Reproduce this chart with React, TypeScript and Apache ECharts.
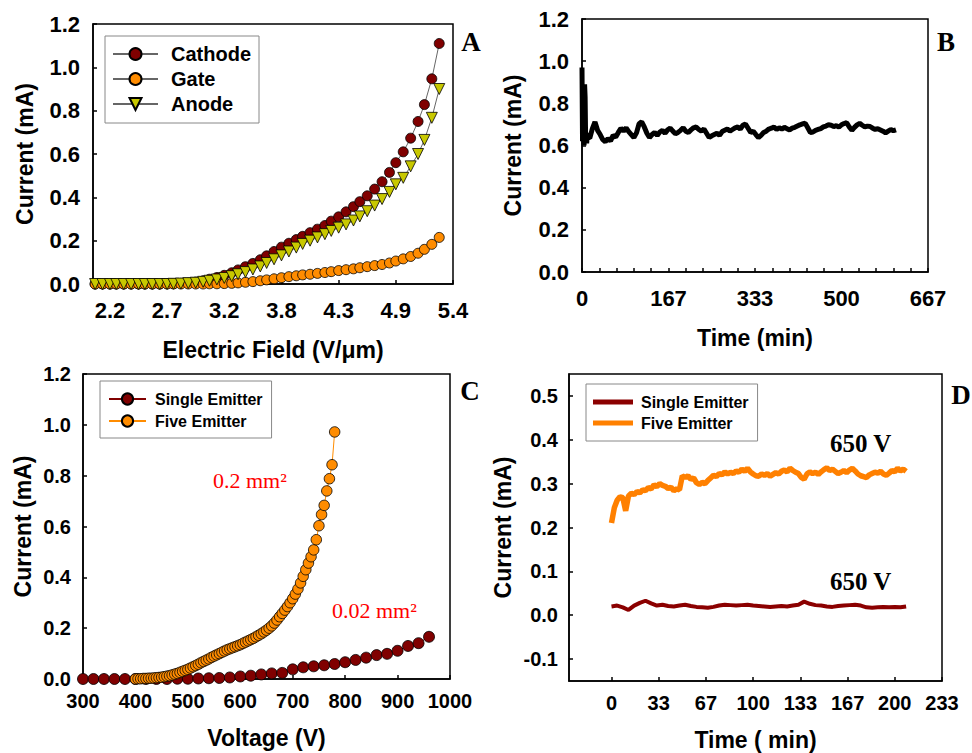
import React, { useEffect, useRef } from "react";
import * as echarts from "echarts";

// ---------- Panel A: current vs electric field ----------
const fieldA = [
  2.02, 2.09, 2.16, 2.22, 2.29, 2.36, 2.43, 2.49, 2.56, 2.63,
  2.70, 2.76, 2.83, 2.90, 2.97, 3.04, 3.10, 3.17, 3.24, 3.31,
  3.37, 3.44, 3.51, 3.58, 3.64, 3.71, 3.78, 3.85, 3.92, 3.98,
  4.05, 4.12, 4.19, 4.25, 4.32, 4.39, 4.46, 4.52, 4.59, 4.66,
  4.73, 4.80, 4.86, 4.93, 5.00, 5.07, 5.13, 5.20, 5.27,
];
const cathodeA = [
  0, 0, 0, 0, 0, 0, 0, 0, 0, 0,
  0.001, 0.002, 0.003, 0.005, 0.009, 0.015, 0.022, 0.03, 0.04, 0.052,
  0.065, 0.08, 0.095, 0.112, 0.13, 0.15, 0.17, 0.188, 0.205, 0.22,
  0.237, 0.253, 0.27, 0.29, 0.31, 0.333, 0.357, 0.38, 0.407, 0.438,
  0.472, 0.515, 0.56, 0.61, 0.673, 0.75, 0.828, 0.947, 1.11,
];
const gateA = [
  0, 0, 0, 0, 0, 0, 0, 0, 0, 0,
  0, 0, 0, 0, 0, 0, 0.001, 0.001, 0.002, 0.003,
  0.005, 0.008, 0.011, 0.015, 0.019, 0.024, 0.029, 0.034, 0.038, 0.042,
  0.045, 0.049, 0.053, 0.057, 0.062, 0.066, 0.07, 0.075, 0.08, 0.085,
  0.09, 0.097, 0.106, 0.116, 0.127, 0.142, 0.16, 0.183, 0.215,
];
const anodeA = [
  0, 0, 0, 0, 0, 0, 0, 0, 0, 0,
  0, 0.001, 0.002, 0.004, 0.006, 0.01, 0.015, 0.021, 0.028, 0.036,
  0.045, 0.055, 0.067, 0.081, 0.097, 0.114, 0.132, 0.15, 0.168, 0.185,
  0.2, 0.215, 0.23, 0.245, 0.26, 0.275, 0.293, 0.312, 0.336, 0.362,
  0.392, 0.425, 0.46, 0.49, 0.543, 0.6, 0.665, 0.767, 0.9,
];
const fieldTicksA = [2.16, 2.7, 3.24, 3.78, 4.32, 4.86, 5.4];

// ---------- Panel B: stability over time ----------
const earlyTimeB = [0, 1, 2, 3, 4, 5, 6, 7, 8, 9, 10];
const earlyCurrentB = [0.97, 0.62, 0.88, 0.74, 0.6, 0.89, 0.83, 0.63, 0.66, 0.61, 0.64];
const lateStartB = 15;
const lateStepB = 5;
const lateCurrentB = [
  0.635, 0.68, 0.712, 0.672, 0.652, 0.628, 0.618, 0.632, 0.622, 0.648,
  0.64, 0.662, 0.682, 0.668, 0.684, 0.666, 0.652, 0.638, 0.66, 0.703,
  0.712, 0.688, 0.658, 0.638, 0.652, 0.662, 0.648, 0.664, 0.672, 0.658,
  0.674, 0.682, 0.668, 0.656, 0.662, 0.672, 0.684, 0.668, 0.662, 0.674,
  0.684, 0.688, 0.676, 0.668, 0.678, 0.658, 0.638, 0.646, 0.652, 0.658,
  0.648, 0.666, 0.672, 0.678, 0.668, 0.676, 0.684, 0.688, 0.678, 0.696,
  0.702, 0.682, 0.662, 0.668, 0.652, 0.638, 0.648, 0.662, 0.668, 0.678,
  0.682, 0.688, 0.676, 0.684, 0.678, 0.686, 0.68, 0.674, 0.682, 0.686,
  0.692, 0.698, 0.702, 0.706, 0.684, 0.662, 0.664, 0.672, 0.676, 0.68,
  0.688, 0.692, 0.698, 0.696, 0.69, 0.694, 0.688, 0.698, 0.704, 0.708,
  0.688, 0.672, 0.686, 0.698, 0.705, 0.696, 0.688, 0.692, 0.69, 0.682,
  0.676, 0.68, 0.674, 0.668, 0.66, 0.668, 0.676, 0.67, 0.674,
];
const timeLabelsB = [0, 166.667, 333.333, 500, 666.667];

// ---------- Panel C: current vs voltage ----------
const singleVoltC = [
  300, 320, 340, 360, 380, 400, 420, 440, 460, 480,
  500, 520, 540, 560, 580, 600, 620, 640, 660, 680,
  700, 720, 740, 760, 780, 800, 820, 840, 860, 880,
  900, 920, 940, 960,
];
const singleCurrentC = [
  0, 0, 0, 0, 0, 0, 0, 0, 0, 0.001,
  0.001, 0.002, 0.003, 0.004, 0.006, 0.01, 0.013, 0.018, 0.022, 0.024,
  0.038, 0.046, 0.05, 0.054, 0.059, 0.066, 0.075, 0.084, 0.094, 0.099,
  0.111, 0.13, 0.141, 0.166,
];
const fiveVoltC = [
  400, 405, 410, 415, 420, 425, 430, 435, 440, 445,
  450, 455, 460, 465, 470, 475, 480, 485, 490, 495,
  500, 505, 510, 515, 520, 525, 530, 535, 540, 545,
  550, 555, 560, 565, 570, 575, 580, 585, 590, 595,
  600, 605, 610, 615, 620, 625, 630, 635, 640, 645,
  650, 655, 660, 665, 670, 675, 680, 685, 690, 695,
  700, 705, 710, 715, 720, 725, 730, 735, 740, 745,
  750, 755, 760, 765, 770, 775, 780,
];
const fiveCurrentC = [
  0.0, 0.001, 0.001, 0.002, 0.002, 0.003, 0.003, 0.004, 0.005, 0.006,
  0.007, 0.009, 0.011, 0.013, 0.016, 0.019, 0.022, 0.026, 0.03, 0.034,
  0.038, 0.043, 0.048, 0.053, 0.058, 0.064, 0.069, 0.074, 0.079, 0.085,
  0.09, 0.095, 0.1, 0.105, 0.11, 0.115, 0.119, 0.123, 0.127, 0.131,
  0.135, 0.14, 0.145, 0.15, 0.155, 0.16, 0.166, 0.172, 0.178, 0.185,
  0.192, 0.2, 0.209, 0.22, 0.232, 0.245, 0.258, 0.271, 0.285, 0.3,
  0.316, 0.334, 0.354, 0.378, 0.404, 0.43, 0.456, 0.481, 0.508, 0.548,
  0.603, 0.647, 0.683, 0.74, 0.788, 0.843, 0.972,
];

// ---------- Panel D: stability at 650 V ----------
const fiveStepD = 2;
const fiveCurrentD = [
  0.21, 0.245, 0.262, 0.27, 0.268, 0.238, 0.272, 0.278, 0.275, 0.282,
  0.279, 0.286, 0.284, 0.291, 0.288, 0.297, 0.293, 0.3, 0.296, 0.294,
  0.289, 0.292, 0.284, 0.288, 0.286, 0.318, 0.314, 0.318, 0.31, 0.313,
  0.302, 0.298, 0.303, 0.3, 0.307, 0.313, 0.319, 0.316, 0.323, 0.32,
  0.327, 0.322, 0.326, 0.323, 0.329, 0.326, 0.333, 0.328, 0.335, 0.327,
  0.322, 0.318, 0.317, 0.322, 0.319, 0.323, 0.317, 0.321, 0.325, 0.322,
  0.328, 0.331, 0.327, 0.335, 0.33, 0.326, 0.323, 0.314, 0.31, 0.322,
  0.327, 0.323, 0.326, 0.321, 0.327, 0.332, 0.336, 0.33, 0.333, 0.328,
  0.323, 0.326, 0.33, 0.325, 0.331, 0.335, 0.329, 0.322, 0.318, 0.316,
  0.314, 0.32, 0.323, 0.326, 0.324, 0.328, 0.322, 0.319, 0.324, 0.33,
  0.327, 0.335, 0.329, 0.333, 0.328,
];
const singleStepD = 4;
const singleCurrentD = [
  0.02, 0.022, 0.018, 0.012, 0.022, 0.028, 0.033, 0.027, 0.022, 0.024,
  0.021, 0.02, 0.022, 0.024, 0.021, 0.019, 0.018, 0.017, 0.019, 0.022,
  0.024, 0.023, 0.022, 0.023, 0.024, 0.022, 0.021, 0.02, 0.019, 0.02,
  0.021, 0.02, 0.022, 0.024, 0.031, 0.026, 0.023, 0.022, 0.02, 0.019,
  0.021, 0.022, 0.023, 0.024, 0.022, 0.018, 0.017, 0.018, 0.019, 0.018,
  0.019, 0.018, 0.02,
];
const timeLabelsD = [0, 33.333, 66.667, 100, 133.333, 166.667, 200, 233.333];
const currentLabelsD = [-0.1, 0, 0.1, 0.2, 0.3, 0.4, 0.5];

// ---------- styling ----------
const SANS = "'Liberation Sans', Arial, sans-serif";
const SERIF = "'Liberation Serif', 'Times New Roman', serif";
const DARK_RED = "#800000";
const ORANGE = "#ff8c00";
const OLIVE = "#c8c800";
// thick horizontal bar centred in the legend item box (invisible corner points fix the bounds)
const LINE_ICON = "path://M0,0L40,0L40,0Z M0,4.5L40,4.5L40,9.5L0,9.5Z M0,14L40,14L40,14Z";

const zip = (xs: number[], ys: number[]) => xs.map((x, i) => [x, ys[i]]);

function axis(o: any) {
  const tickCustom = o.tickValues || o.labelValues;
  return {
    type: "value",
    gridIndex: o.grid,
    min: o.min,
    max: o.max,
    interval: o.interval,
    name: o.name,
    nameLocation: "middle",
    nameGap: o.nameGap,
    nameRotate: o.rotate ? 90 : 0,
    nameTextStyle: { fontSize: 23, fontWeight: "bold", fontFamily: SANS, color: "#000" },
    axisLine: { show: true, onZero: false, lineStyle: { color: "#000", width: 1.5 } },
    axisTick: {
      show: true,
      inside: true,
      length: 4,
      lineStyle: { color: "#000", width: 1.5 },
      ...(tickCustom ? { customValues: tickCustom } : {}),
    },
    axisLabel: {
      fontSize: o.fontSize,
      fontWeight: "bold",
      fontFamily: SANS,
      color: "#000",
      margin: o.margin,
      formatter: o.formatter,
      showMinLabel: true,
      showMaxLabel: true,
      ...(o.labelValues ? { customValues: o.labelValues } : {}),
    },
    splitLine: { show: false },
  };
}

const fixed1 = (v: number) => v.toFixed(1);
const rounded = (v: number) => String(Math.round(v));

function buildOption() {
  const gridBase = { show: true, borderColor: "#000", borderWidth: 1.5, containLabel: false, outerBoundsMode: "none" };
  const legendText = (size: number, pad: number) => ({
    fontSize: size,
    fontWeight: "bold",
    fontFamily: SANS,
    color: "#000",
    lineHeight: size,
    padding: [0, 0, 0, pad],
  });
  return {
    animation: false,
    backgroundColor: "#fff",
    grid: [
      { ...gridBase, left: 93, top: 24, width: 360, height: 260 },
      { ...gridBase, left: 582, top: 19, width: 346, height: 253 },
      { ...gridBase, left: 83, top: 374, width: 367, height: 305 },
      { ...gridBase, left: 569, top: 374, width: 373, height: 307 },
    ],
    xAxis: [
      axis({ grid: 0, min: 2.0, max: 5.4, name: "Electric Field (V/μm)", nameGap: 54, fontSize: 22, margin: 15, labelValues: fieldTicksA, formatter: fixed1 }),
      axis({ grid: 1, min: 0, max: 666.667, name: "Time (min)", nameGap: 54, fontSize: 22, margin: 15, labelValues: timeLabelsB, tickValues: Array.from({ length: 21 }, (_, i) => (i * 100) / 3), formatter: rounded }),
      axis({ grid: 2, min: 300, max: 1000, interval: 100, name: "Voltage (V)", nameGap: 47, fontSize: 20, margin: 12, formatter: rounded }),
      axis({ grid: 3, min: -30, max: 233.333, name: "Time ( min)", nameGap: 47, fontSize: 20, margin: 12, labelValues: timeLabelsD, formatter: rounded }),
    ],
    yAxis: [
      axis({ grid: 0, min: 0, max: 1.2, interval: 0.2, name: "Current (mA)", nameGap: 57, rotate: true, fontSize: 22, margin: 13, formatter: fixed1 }),
      axis({ grid: 1, min: 0, max: 1.2, interval: 0.2, name: "Current (mA)", nameGap: 58, rotate: true, fontSize: 22, margin: 13, formatter: fixed1 }),
      axis({ grid: 2, min: 0, max: 1.2, interval: 0.2, name: "Current (mA)", nameGap: 49, rotate: true, fontSize: 20, margin: 12, formatter: fixed1 }),
      axis({ grid: 3, min: -0.15, max: 0.55, name: "Current (mA)", nameGap: 55, rotate: true, fontSize: 20, margin: 11, labelValues: currentLabelsD, formatter: fixed1 }),
    ],
    legend: [
      {
        orient: "vertical", left: 105, top: 36, itemWidth: 45, itemHeight: 15, itemGap: 5,
        padding: [8, 8, 9, 7], borderColor: "#888", borderWidth: 1, selectedMode: false,
        textStyle: legendText(20, 8),
        data: ["Cathode", "Gate", "Anode"],
      },
      {
        orient: "vertical", left: 100, top: 381, itemWidth: 37, itemHeight: 14, itemGap: 6,
        padding: [10, 9, 9, 8], borderColor: "#888", borderWidth: 1, selectedMode: false,
        textStyle: legendText(16, 4),
        data: ["Single Emitter", "Five Emitter"],
      },
      {
        orient: "vertical", left: 586, top: 384, itemWidth: 40, itemHeight: 14, itemGap: 5,
        padding: [10, 9, 10, 7], borderColor: "#888", borderWidth: 1, selectedMode: false,
        textStyle: legendText(16, 3),
        formatter: (n: string) => n.replace(" (D)", ""),
        data: [
          { name: "Single Emitter (D)", icon: LINE_ICON },
          { name: "Five Emitter (D)", icon: LINE_ICON },
        ],
      },
    ],
    series: [
      {
        name: "Cathode", type: "line", xAxisIndex: 0, yAxisIndex: 0, data: zip(fieldA, cathodeA),
        symbol: "circle", symbolSize: 10, lineStyle: { color: "#666", width: 1 },
        itemStyle: { color: DARK_RED, borderColor: "#000", borderWidth: 0.8 },
      },
      {
        name: "Gate", type: "line", xAxisIndex: 0, yAxisIndex: 0, data: zip(fieldA, gateA),
        symbol: "circle", symbolSize: 10, lineStyle: { color: "#666", width: 1 },
        itemStyle: { color: ORANGE, borderColor: "#000", borderWidth: 0.8 },
      },
      {
        name: "Anode", type: "line", xAxisIndex: 0, yAxisIndex: 0, data: zip(fieldA, anodeA),
        symbol: "triangle", symbolRotate: 180, symbolSize: 11, lineStyle: { color: "#666", width: 1 },
        itemStyle: { color: OLIVE, borderColor: "#000", borderWidth: 0.8 },
      },
      {
        name: "Stability", type: "line", xAxisIndex: 1, yAxisIndex: 1,
        data: [
          ...zip(earlyTimeB, earlyCurrentB),
          ...lateCurrentB.map((v, i) => [lateStartB + i * lateStepB, v]),
        ],
        symbol: "none", lineStyle: { color: "#000", width: 5 },
      },
      {
        name: "Single Emitter", type: "line", xAxisIndex: 2, yAxisIndex: 2, data: zip(singleVoltC, singleCurrentC),
        symbol: "circle", symbolSize: 11, lineStyle: { color: DARK_RED, width: 1 },
        itemStyle: { color: DARK_RED, borderColor: "#000", borderWidth: 0.8 },
      },
      {
        name: "Five Emitter", type: "line", xAxisIndex: 2, yAxisIndex: 2, data: zip(fiveVoltC, fiveCurrentC),
        symbol: "circle", symbolSize: 10.5, lineStyle: { color: ORANGE, width: 1 },
        itemStyle: { color: ORANGE, borderColor: "#000", borderWidth: 0.8 },
      },
      {
        name: "Single Emitter (D)", type: "line", xAxisIndex: 3, yAxisIndex: 3,
        data: singleCurrentD.map((v, i) => [i * singleStepD, v]),
        symbol: "none", lineStyle: { color: "#8b0000", width: 4 }, itemStyle: { color: "#8b0000" },
      },
      {
        name: "Five Emitter (D)", type: "line", xAxisIndex: 3, yAxisIndex: 3,
        data: fiveCurrentD.map((v, i) => [i * fiveStepD, v]),
        symbol: "none", lineStyle: { color: "#ff8000", width: 5.5 }, itemStyle: { color: "#ff8000" },
      },
    ],
    graphic: [
      { type: "text", x: 471, y: 42, style: { text: "A", fontSize: 27, fontWeight: "bold", fontFamily: SERIF, fill: "#000", align: "center", verticalAlign: "middle" } },
      { type: "text", x: 946, y: 42, style: { text: "B", fontSize: 27, fontWeight: "bold", fontFamily: SERIF, fill: "#000", align: "center", verticalAlign: "middle" } },
      { type: "text", x: 470, y: 391, style: { text: "C", fontSize: 27, fontWeight: "bold", fontFamily: SERIF, fill: "#000", align: "center", verticalAlign: "middle" } },
      { type: "text", x: 961, y: 395, style: { text: "D", fontSize: 27, fontWeight: "bold", fontFamily: SERIF, fill: "#000", align: "center", verticalAlign: "middle" } },
      { type: "text", x: 213, y: 480, style: { text: "0.2 mm²", fontSize: 22, fontFamily: SERIF, fill: "#ff0000", align: "left", verticalAlign: "middle" } },
      { type: "text", x: 332, y: 610, style: { text: "0.02 mm²", fontSize: 22, fontFamily: SERIF, fill: "#ff0000", align: "left", verticalAlign: "middle" } },
      { type: "text", x: 830, y: 443, style: { text: "650 V", fontSize: 25, fontWeight: "bold", fontFamily: SERIF, fill: "#000", align: "left", verticalAlign: "middle" } },
      { type: "text", x: 830, y: 581, style: { text: "650 V", fontSize: 25, fontWeight: "bold", fontFamily: SERIF, fill: "#000", align: "left", verticalAlign: "middle" } },
    ],
  };
}

export default function App() {
  const ref = useRef<HTMLDivElement>(null);
  useEffect(() => {
    if (!ref.current) return;
    const chart = echarts.init(ref.current, null, { renderer: "svg" });
    chart.setOption(buildOption() as any);
    return () => chart.dispose();
  }, []);
  return (
    <div
      ref={ref}
      style={{ position: "absolute", left: 0, top: 0, width: 972, height: 753, background: "#fff" }}
    />
  );
}
